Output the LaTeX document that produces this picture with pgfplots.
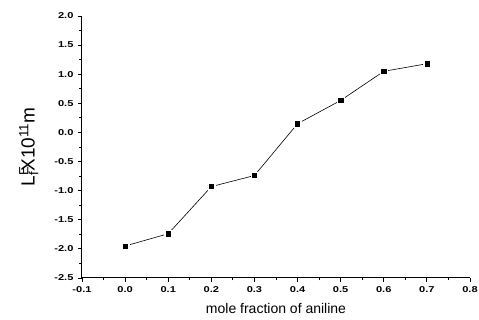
\documentclass[border=0pt]{standalone}
\usepackage{pgfplots}
\usepackage{pgfplotstable}
\pgfplotsset{compat=1.18}
\usepackage{fontspec}
\setmainfont{Liberation Sans}
\newfontfamily\tickfont[FakeStretch=1.3,BoldFeatures={FakeStretch=1.3}]{Liberation Sans}
\pgfplotstableread{
x y
0.0 -1.95
0.1 -1.74
0.2 -0.93
0.3 -0.74
0.4 0.15
0.5 0.55
0.6 1.05
0.7 1.18
}\datatable
\begin{document}
\begin{tikzpicture}
\useasboundingbox (-82pt,-42pt) rectangle (397pt,278pt);
\begin{axis}[
  scale only axis,
  width=388pt, height=262pt,
  xmin=-0.1, xmax=0.8, ymin=-2.5, ymax=2.0,
  axis lines=left,
  axis line style={-, line width=1pt},
  xtick={-0.1,0,0.1,0.2,0.3,0.4,0.5,0.6,0.7,0.8},
  ytick={-2.5,-2,-1.5,-1,-0.5,0,0.5,1,1.5,2},
  minor tick num=1,
  tick align=outside,
  major tick length=4pt,
  minor tick length=2.5pt,
  tick style={line width=0.8pt, black},
  /pgf/number format/assume math mode=true,
  /pgf/number format/fixed,
  /pgf/number format/fixed zerofill,
  /pgf/number format/precision=1,
  ticklabel style={font=\tickfont\bfseries\fontsize{8.5}{9}\selectfont},
  xticklabel style={yshift=-1pt},
  yticklabel style={xshift=-1pt},
  xlabel={mole fraction of aniline},
  xlabel style={at={(axis description cs:0.5,-0.116)}, anchor=center, font=\fontsize{14}{16}\selectfont},
  ylabel={L\rlap{\textsuperscript{E}}\textsubscript{f}X10\textsuperscript{11}m},
  ylabel style={at={(axis description cs:-0.137,0.5)}, anchor=center, font=\fontsize{19}{21}\selectfont},
  clip=false,
]
\addplot[black, line width=0.6pt, no marks] table[x=x,y=y]{\datatable};
\addplot[only marks, mark=square*, mark size=3.6pt, mark options={fill=white, draw=white}] table[x=x,y=y]{\datatable};
\addplot[only marks, mark=square*, mark size=2.1pt, mark options={fill=black, draw=black}] table[x=x,y=y]{\datatable};
\end{axis}
\end{tikzpicture}
\end{document}
